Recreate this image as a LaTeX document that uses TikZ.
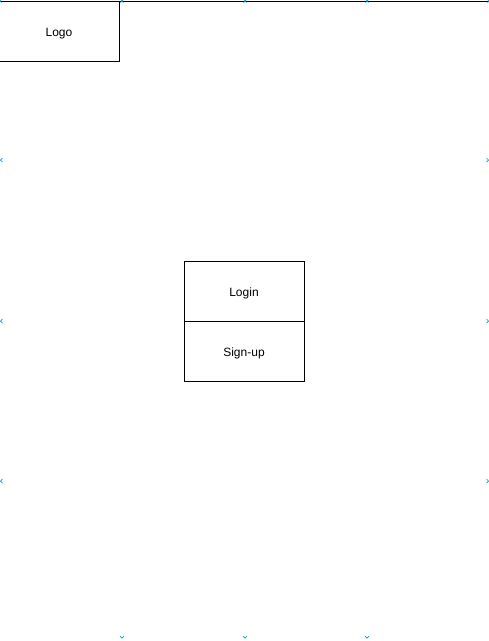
\documentclass[tikz,border=0pt]{standalone}
\usepackage{fontspec}
\setmainfont{Liberation Sans}
\tikzset{%
  pbox/.style={draw,shape=rectangle,minimum width=120,minimum height=60,inner sep=0,line width=.8,text height=10,text depth=0,font=\fontsize{12}{14}\selectfont},
  hmark/.style={draw=cyan!80!blue,line width=.7}
}
\begin{document}
\begin{tikzpicture}[x=1pt,y=-1pt]
    \useasboundingbox (0,0) rectangle (489,641);
    \path
      (59,31) node[pbox] (logo) {Logo}
      (244,291) node[pbox] (login) {Login}
      (244,351) node[pbox] (signup) {Sign-up};
    \coordinate (tl) at (0,1);
    \coordinate (tr) at (489,1);
    \draw[line width=.8] (tl) -- (tr);
    % handle marks
    \foreach \x in {0,122,245,367,489}
      \draw[hmark] (\x-1.5,-0.5) -- (\x+1.5,2.5) (\x-1.5,2.5) -- (\x+1.5,-0.5);
    \foreach \y in {160,321,481} {
      \draw[hmark] (2.5,\y-2) -- (0.5,\y) -- (2.5,\y+2);
      \draw[hmark] (486.5,\y-2) -- (488.5,\y) -- (486.5,\y+2);
    }
    \foreach \x in {122,245,367}
      \draw[hmark] (\x-2,636) -- (\x,638) -- (\x+2,636);
  \end{tikzpicture}
\end{document}
